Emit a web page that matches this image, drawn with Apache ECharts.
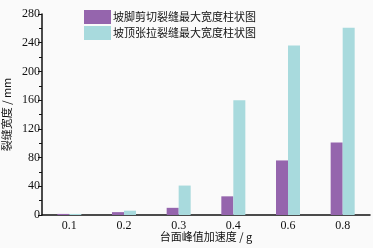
<!DOCTYPE html>
<html lang="zh">
<head>
    <meta charset="UTF-8">
    <title>裂缝宽度柱状图</title>
    <script src="https://cdn.jsdelivr.net/npm/echarts@6/dist/echarts.min.js"></script>
    <style>
        html, body { margin: 0; padding: 0; background: #fafafa; }
    </style>
</head>
<body>
<div id="main" style="width:373px;height:248px;"></div>
<script type="text/javascript">
    // 数据
    var categories = ['0.1', '0.2', '0.3', '0.4', '0.6', '0.8'];
    var shearWidth = [1.5, 4, 10, 26, 76, 101];
    var tensionWidth = [1.5, 6, 41, 160, 236, 261];
    var seriesNames = ['坡脚剪切裂缝最大宽度柱状图', '坡顶张拉裂缝最大宽度柱状图'];

    var numFont = '"Liberation Serif", "Times New Roman", serif';
    var cjkFont = '"Noto Sans CJK SC", sans-serif';

    var myChart = echarts.init(document.getElementById('main'));
    var option = {
        backgroundColor: '#fafafa',
        animation: false,
        legend: {
            orient: 'vertical',
            left: 79,
            top: 5,
            icon: 'rect',
            itemWidth: 27,
            itemHeight: 14,
            itemGap: 2,
            textStyle: { fontFamily: cjkFont, fontSize: 11, color: '#111', padding: [0, 0, 0, -3] },
            data: seriesNames
        },
        grid: { left: 42, right: 3, top: 14, bottom: 33, outerBoundsMode: 'none', containLabel: false },
        xAxis: [{
            type: 'category',
            data: categories,
            name: '台面峰值加速度 / g',
            nameLocation: 'middle',
            nameGap: 16,
            nameMoveOverlap: false,
            nameTextStyle: { fontFamily: cjkFont, fontSize: 11, color: '#111' },
            axisLine: { lineStyle: { color: '#111', width: 1.5 } },
            axisTick: { alignWithLabel: true, length: 3, lineStyle: { color: '#111' } },
            axisLabel: { fontFamily: numFont, fontSize: 12, color: '#111', margin: 5 }
        }, {
            type: 'category',
            data: categories,
            position: 'bottom',
            axisLine: { show: false },
            axisTick: { inside: true, length: 3, lineStyle: { color: '#111' } },
            axisLabel: { show: false }
        }],
        yAxis: {
            type: 'value',
            min: 0,
            max: 280,
            interval: 40,
            name: '裂缝宽度 / mm',
            nameLocation: 'middle',
            nameGap: 30,
            nameMoveOverlap: false,
            nameTextStyle: { fontFamily: cjkFont, fontSize: 11, color: '#111' },
            axisLine: { show: true, lineStyle: { color: '#111', width: 1.5 } },
            axisTick: { show: true, length: 4, lineStyle: { color: '#111' } },
            minorTick: { show: true, splitNumber: 2, length: 3, lineStyle: { color: '#111' } },
            splitLine: { show: false },
            axisLabel: { fontFamily: numFont, fontSize: 12, color: '#111', margin: 2 }
        },
        series: [
            {
                name: seriesNames[0],
                type: 'bar',
                data: shearWidth,
                barWidth: 12,
                barGap: '0%',
                itemStyle: { color: '#9565ad' }
            },
            {
                name: seriesNames[1],
                type: 'bar',
                data: tensionWidth,
                barWidth: 12,
                itemStyle: { color: '#a8dadd' }
            }
        ]
    };
    myChart.setOption(option);
</script>
</body>
</html>
